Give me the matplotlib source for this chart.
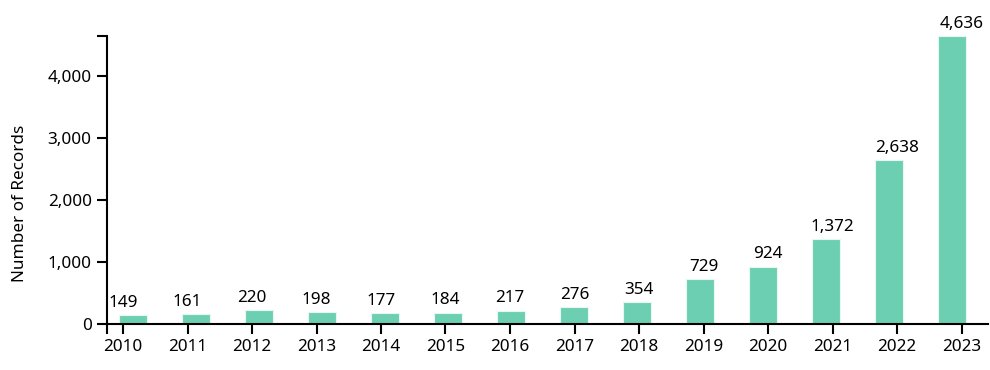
import matplotlib
matplotlib.use("Agg")
import matplotlib.pyplot as plt
import numpy as np

# ── data ────────────────────────────────────────────────────────────────
years = [2010, 2011, 2012, 2013, 2014, 2015, 2016,
         2017, 2018, 2019, 2020, 2021, 2022, 2023]
records = [149, 161, 220, 198, 177, 184, 217,
           276, 354, 729, 924, 1372, 2638, 4636]
y_ticks = [0, 1000, 2000, 3000, 4000]

bar_colour = "#6DCFB1"
plt.rcParams["font.family"] = ["Noto Sans", "DejaVu Sans"]

fig = plt.figure(figsize=(9.9, 3.7), dpi=100)
ax = fig.add_axes([107 / 990, 46 / 370, 881 / 990, 288 / 370])

# bars sit on an index band scale, labels/ticks on a slightly wider year scale
idx = np.arange(len(years))
ax.bar(idx, records, width=0.445, color=bar_colour,
       edgecolor="#E6F7F1", linewidth=0.8, zorder=2)

tick_step = 64.5 / 63.0
tick_pos = -10 / 63.0 + idx * tick_step

for x, v in zip(tick_pos, records):
    ax.annotate(f"{v:,}", xy=(x, v), xytext=(0, 3),
                textcoords="offset points", ha="center", va="bottom",
                fontsize=12.3, color="black")

ax.set_xlim(-26 / 63.0, 855 / 63.0)
ax.set_ylim(0, max(records))

ax.set_xticks(tick_pos)
ax.set_xticklabels([str(y) for y in years])
ax.set_yticks(y_ticks + [max(records)])
ax.set_yticklabels([f"{t:,}" for t in y_ticks] + [""])

# outer tick at the left end of the x domain
ax.set_xticks([ax.get_xlim()[0]], minor=True)

ax.tick_params(axis="both", which="both", length=7.5, width=1.5,
               color="black", labelsize=12.3, labelcolor="black")
ax.tick_params(axis="x", pad=3)
ax.tick_params(axis="y", pad=3.5)

for side in ["top", "right"]:
    ax.spines[side].set_visible(False)
for side in ["left", "bottom"]:
    ax.spines[side].set_linewidth(1.5)

ax.set_ylabel("Number of Records", fontsize=12.3)
ax.yaxis.set_label_coords(-0.09, 0.42)

fig.savefig("out.png", dpi=100)
